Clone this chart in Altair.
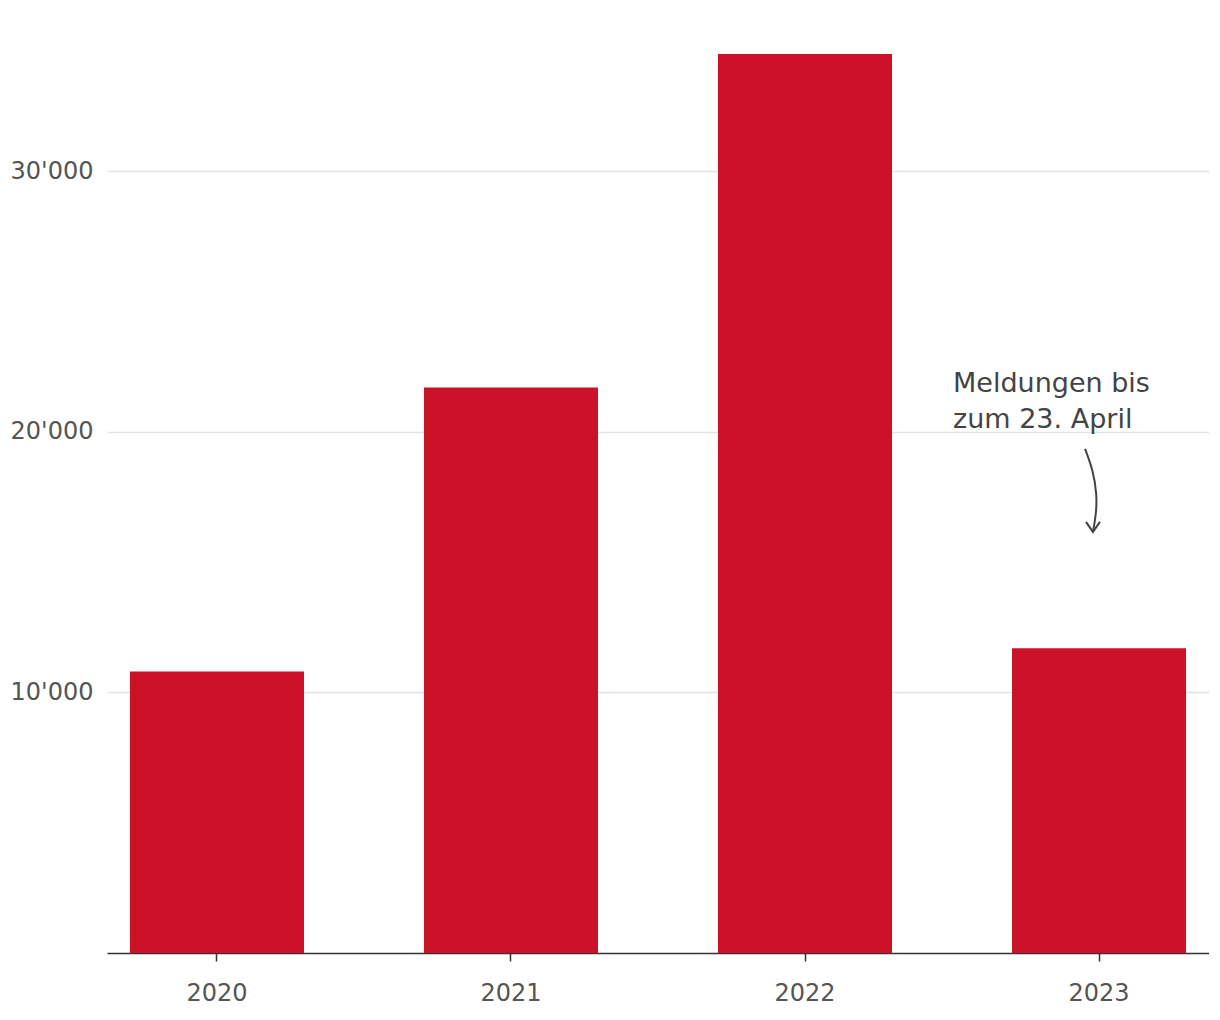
import altair as alt
import pandas as pd

years = ["2020", "2021", "2022", "2023"]
values = [10800, 21700, 34500, 11700]
y_ticks = [10000, 20000, 30000]

note_lines = ["Meldungen bis", "zum 23. April"]
note_x = [0.7677, 0.7677]
note_y = [21850, 20440]

# arrow path in (fraction of plot width, data units)
arrow_x = [0.8875, 0.8947, 0.8984, 0.8975, 0.8947]
arrow_y = [19347, 18541, 17582, 16814, 16161]

FONT = "DejaVu Sans"
RED = "#cb1228"
TXT = "#555555"

bars_df = pd.DataFrame({"year": years, "value": values})
note_df = pd.DataFrame({"fx": note_x, "line": note_lines, "fy": note_y})
arrow_df = pd.DataFrame({"fx": arrow_x, "fy": arrow_y, "order": list(range(len(arrow_x)))})
head_df = arrow_df.tail(1)

y_scale = alt.Scale(domain=[0, 36000], nice=False)
y_axis = alt.Axis(values=y_ticks, domain=False, ticks=False, grid=True, title=None,
                  gridColor="#e3e3e3", gridWidth=1.5, labelFontSize=24,
                  labelColor=TXT, labelFont=FONT, labelPadding=14,
                  labelExpr="replace(format(datum.value, ','), ',', \"'\")")
fx_enc = alt.X("fx:Q", scale=alt.Scale(domain=[0, 1], nice=False), axis=None)
fy_enc = alt.Y("fy:Q", scale=y_scale, axis=y_axis)

bars = alt.Chart(bars_df).mark_bar(color=RED).encode(
    x=alt.X("year:N", sort=years, title=None,
            scale=alt.Scale(paddingInner=0.408, paddingOuter=0.078),
            axis=alt.Axis(domainColor="#333333", domainWidth=1.5, tickColor="#333333",
                          tickSize=8, tickWidth=1.5, labelAngle=0, labelFontSize=24,
                          labelColor=TXT, labelFont=FONT, labelPadding=20, grid=False)),
    y=alt.Y("value:Q", scale=y_scale, axis=y_axis),
)

note = alt.Chart(note_df).mark_text(
    align="left", baseline="middle", fontSize=27, font=FONT, color="#444444"
).encode(
    x=fx_enc,
    y=fy_enc,
    text="line:N",
)

arrow = alt.Chart(arrow_df).mark_line(
    color="#444444", strokeWidth=2, interpolate="basis"
).encode(
    x=fx_enc,
    y=fy_enc,
    order="order:Q",
)

head = alt.Chart(head_df).mark_point(
    shape="M -0.7 -1 L 0 0 L 0.7 -1", size=400, filled=False,
    color="#444444", strokeWidth=2, opacity=1
).encode(
    x=fx_enc,
    y=fy_enc,
)

chart = alt.layer(bars, note, arrow, head).resolve_scale(x="independent").properties(
    width=1102, height=938,
    autosize=alt.AutoSizeParams(type="none"),
    padding={"left": 99, "top": 7, "right": 0, "bottom": 60},
).configure(background="white").configure_view(strokeWidth=0, stroke="transparent")

chart.save("out.html", embed_options={"renderer": "svg", "actions": False})
